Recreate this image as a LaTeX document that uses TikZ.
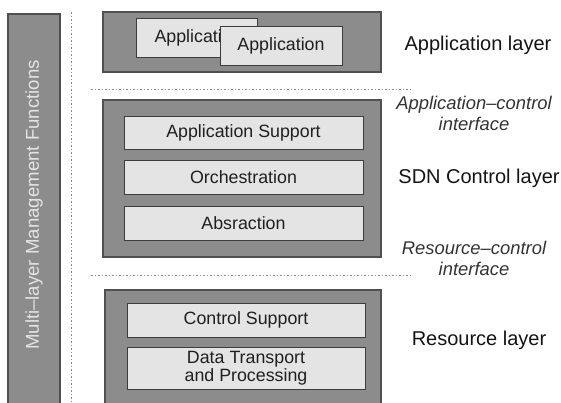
\documentclass[tikz,border=0pt]{standalone}
\usepackage{fontspec}
\setmainfont{Liberation Sans}
\definecolor{outerfill}{HTML}{8C8C8C}
\definecolor{outerline}{HTML}{505050}
\definecolor{innerfill}{HTML}{E4E4E4}
\definecolor{innerline}{HTML}{3C3C3C}
\definecolor{dotcol}{HTML}{8A8A8A}
\begin{document}
\begin{tikzpicture}[x=1pt,y=-1pt,
  outerbox/.style={draw=outerline,fill=outerfill,line width=1.2pt},
  innerbox/.style={draw=innerline,fill=innerfill,line width=1pt},
  boxtext/.style={font=\fontsize{17.8}{17.5}\selectfont,text=black!88,align=center},
  layerlabel/.style={font=\fontsize{20}{21}\selectfont,text=black!92},
  iflabel/.style={font=\fontsize{18.4}{21}\selectfont\itshape,text=black!80,align=center},
  sep/.style={draw=dotcol,line width=1pt,dash pattern=on 1.5pt off 2pt}]
\clip (0,0) rectangle (561,402);
% left management bar
\path[outerbox] (8,14) rectangle (60,410);
\node[rotate=90,font=\fontsize{18.6}{19}\selectfont,text=innerfill] (mgmt) at (34,205) {Multi–layer Management Functions};
% vertical dotted separator
\coordinate (vtop) at (71,12);
\coordinate (vbot) at (71,402);
\draw[sep] (vtop) -- (vbot);
% application layer
\path[outerbox] (103,12) rectangle (381,72);
\draw[innerbox] (136,18) rectangle (257,57);
\node[boxtext,anchor=west] (app1) at (151,38) {Application};
\draw[innerbox] (220,26) rectangle (342,65);
\node[boxtext] (app2) at (281,45.5) {Application};
% dotted line 1
\coordinate (h1a) at (91,89);
\coordinate (h1b) at (412,89);
\draw[sep] (h1a) -- (h1b);
% SDN control layer
\path[outerbox] (103,100) rectangle (381,257);
\node[innerbox,boxtext,minimum width=239pt,minimum height=33pt,inner sep=0pt] (appsup) at (243.5,132.5) {Application Support};
\node[innerbox,boxtext,minimum width=239pt,minimum height=34pt,inner sep=0pt] (orch) at (243.5,177) {Orchestration};
\node[innerbox,boxtext,minimum width=239pt,minimum height=34pt,inner sep=0pt] (abs) at (243.5,223) {Absraction};
% dotted line 2
\coordinate (h2a) at (91,275);
\coordinate (h2b) at (412,275);
\draw[sep] (h2a) -- (h2b);
% resource layer
\path[outerbox] (105,290) rectangle (381,410);
\node[innerbox,boxtext,minimum width=238pt,minimum height=34pt,inner sep=0pt] (ctrl) at (246,320) {Control Support};
\node[innerbox,boxtext,minimum width=238pt,minimum height=42pt,inner sep=0pt] (data) at (246,368) {Data Transport\\and Processing};
% right labels
\node[layerlabel] (lapp) at (478,45) {Application layer};
\node[iflabel] (ifac) at (474,113) {Application–control\\interface};
\node[layerlabel] (lsdn) at (479,178) {SDN Control layer};
\node[iflabel] (ifrc) at (474,258) {Resource–control\\interface};
\node[layerlabel] (lres) at (479,340) {Resource layer};
\end{tikzpicture}
\end{document}
